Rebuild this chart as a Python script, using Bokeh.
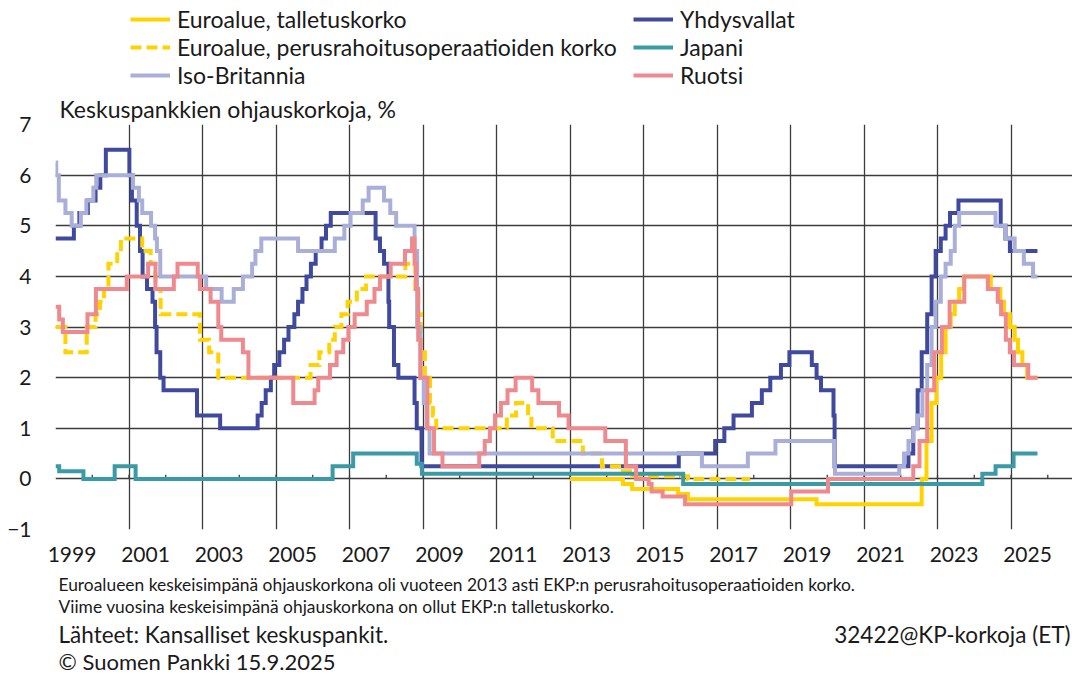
from bokeh.plotting import figure
from bokeh.layouts import column
from bokeh.models import (FixedTicker, Legend, LegendItem, Label, Range1d,
                          CustomJSTickFormatter)
from bokeh.embed import file_html
from bokeh.resources import INLINE

# ---------------- data (change dates as decimal years, rate after change) ----
ea_depo_t = [2013.0, 2014.44, 2014.69, 2015.94, 2016.21, 2019.71, 2022.57, 2022.70,
             2022.84, 2022.97, 2023.10, 2023.22, 2023.36, 2023.47, 2023.59, 2023.72,
             2024.45, 2024.71, 2024.81, 2024.97, 2025.10, 2025.19, 2025.31, 2025.44,
             2025.72]
ea_depo_v = [0.0, -0.1, -0.2, -0.3, -0.4, -0.5, 0.0, 0.75,
             1.5, 2.0, 2.5, 3.0, 3.25, 3.5, 3.75, 4.0,
             3.75, 3.5, 3.25, 3.0, 2.75, 2.5, 2.25, 2.0,
             2.0]

ea_mro_t = [1999.0, 1999.27, 1999.85, 2000.09, 2000.21, 2000.32, 2000.44, 2000.68,
            2000.78, 2001.36, 2001.59, 2001.72, 2001.86, 2002.93, 2003.18, 2003.43,
            2005.94, 2006.18, 2006.45, 2006.60, 2006.78, 2006.95, 2007.20, 2007.45,
            2008.52, 2008.79, 2008.87, 2008.94, 2009.05, 2009.19, 2009.27, 2009.36,
            2011.28, 2011.53, 2011.86, 2011.95, 2012.53, 2013.35, 2013.87, 2014.44,
            2014.69, 2016.21, 2017.90]
ea_mro_v = [3.0, 2.5, 3.0, 3.25, 3.5, 3.75, 4.25, 4.5,
            4.75, 4.5, 4.25, 3.75, 3.25, 2.75, 2.5, 2.0,
            2.25, 2.5, 2.75, 3.0, 3.25, 3.5, 3.75, 4.0,
            4.25, 3.75, 3.25, 2.5, 2.0, 1.5, 1.25, 1.0,
            1.25, 1.5, 1.25, 1.0, 0.75, 0.5, 0.25, 0.15,
            0.05, 0.0, 0.0]

us_t = [1999.0, 1999.50, 1999.65, 1999.88, 2000.09, 2000.22, 2000.37, 2001.01,
        2001.08, 2001.21, 2001.30, 2001.37, 2001.49, 2001.64, 2001.71, 2001.75,
        2001.85, 2001.94, 2002.85, 2003.48, 2004.50, 2004.61, 2004.72, 2004.86,
        2004.95, 2005.09, 2005.22, 2005.34, 2005.50, 2005.60, 2005.72, 2005.83,
        2005.95, 2006.08, 2006.24, 2006.36, 2006.49, 2007.71, 2007.83, 2007.94,
        2008.06, 2008.08, 2008.21, 2008.33, 2008.77, 2008.83, 2008.96, 2015.96,
        2016.95, 2017.20, 2017.45, 2017.95, 2018.22, 2018.45, 2018.74, 2018.97,
        2019.58, 2019.71, 2019.83, 2020.17, 2020.20, 2022.21, 2022.34, 2022.46,
        2022.57, 2022.72, 2022.84, 2022.95, 2023.09, 2023.22, 2023.34, 2023.57,
        2024.72, 2024.85, 2024.97, 2025.72]
us_v = [4.75, 5.0, 5.25, 5.5, 5.75, 6.0, 6.5, 6.0,
        5.5, 5.0, 4.5, 4.0, 3.75, 3.5, 3.0, 2.5,
        2.0, 1.75, 1.25, 1.0, 1.25, 1.5, 1.75, 2.0,
        2.25, 2.5, 2.75, 3.0, 3.25, 3.5, 3.75, 4.0,
        4.25, 4.5, 4.75, 5.0, 5.25, 4.75, 4.5, 4.25,
        3.5, 3.0, 2.25, 2.0, 1.5, 1.0, 0.25, 0.5,
        0.75, 1.0, 1.25, 1.5, 1.75, 2.0, 2.25, 2.5,
        2.25, 2.0, 1.75, 1.25, 0.25, 0.5, 1.0, 1.75,
        2.5, 3.25, 4.0, 4.5, 4.75, 5.0, 5.25, 5.5,
        5.0, 4.75, 4.5, 4.5]

jp_t = [1999.0, 1999.10, 1999.76, 2000.61, 2001.18, 2006.54, 2007.10, 2008.83,
        2008.97, 2016.08, 2024.22, 2024.58, 2025.07, 2025.72]
jp_v = [0.25, 0.15, 0.0, 0.25, 0.0, 0.25, 0.5, 0.3,
        0.1, -0.1, 0.1, 0.25, 0.5, 0.5]

uk_t = [1999.0, 1999.02, 1999.09, 1999.27, 1999.44, 1999.69, 1999.84, 2000.03,
        2000.11, 2001.11, 2001.27, 2001.36, 2001.60, 2001.71, 2001.76, 2001.85,
        2003.10, 2003.52, 2003.85, 2004.10, 2004.35, 2004.44, 2004.60, 2005.60,
        2006.60, 2006.86, 2007.03, 2007.36, 2007.52, 2007.94, 2008.11, 2008.27,
        2008.77, 2008.84, 2008.93, 2009.02, 2009.10, 2009.18, 2016.59, 2017.84,
        2018.59, 2020.19, 2020.21, 2021.96, 2022.09, 2022.21, 2022.34, 2022.46,
        2022.59, 2022.72, 2022.84, 2022.95, 2023.09, 2023.22, 2023.36, 2023.47,
        2023.59, 2024.58, 2024.85, 2025.10, 2025.35, 2025.60, 2025.72]
uk_v = [6.25, 6.0, 5.5, 5.25, 5.0, 5.25, 5.5, 5.75,
        6.0, 5.75, 5.5, 5.25, 5.0, 4.75, 4.5, 4.0,
        3.75, 3.5, 3.75, 4.0, 4.25, 4.5, 4.75, 4.5,
        4.75, 5.0, 5.25, 5.5, 5.75, 5.5, 5.25, 5.0,
        4.5, 3.0, 2.0, 1.5, 1.0, 0.5, 0.25, 0.5,
        0.75, 0.25, 0.1, 0.25, 0.5, 0.75, 1.0, 1.25,
        1.75, 2.25, 3.0, 3.5, 4.0, 4.25, 4.5, 5.0,
        5.25, 5.0, 4.75, 4.5, 4.25, 4.0, 4.0]

se_t = [1999.0, 1999.10, 1999.20, 1999.87, 2000.10, 2000.94, 2001.52, 2001.72,
        2002.22, 2002.32, 2002.87, 2002.93, 2003.22, 2003.43, 2003.51, 2004.10,
        2004.25, 2005.47, 2006.05, 2006.15, 2006.47, 2006.65, 2006.83, 2006.97,
        2007.14, 2007.47, 2007.68, 2007.83, 2008.12, 2008.51, 2008.70, 2008.77,
        2008.81, 2008.87, 2008.93, 2009.12, 2009.30, 2009.53, 2010.53, 2010.68,
        2010.82, 2010.96, 2011.12, 2011.30, 2011.52, 2011.97, 2012.14, 2012.70,
        2012.96, 2013.96, 2014.52, 2014.80, 2015.14, 2015.22, 2015.52, 2016.13,
        2019.02, 2020.02, 2022.34, 2022.51, 2022.72, 2022.91, 2023.12, 2023.33,
        2023.73, 2024.37, 2024.64, 2024.73, 2024.86, 2024.97, 2025.08, 2025.47,
        2025.72]
se_v = [3.4, 3.15, 2.9, 3.25, 3.75, 4.0, 4.25, 3.75,
        4.0, 4.25, 4.0, 3.75, 3.5, 3.0, 2.75, 2.5,
        2.0, 1.5, 1.75, 2.0, 2.25, 2.5, 2.75, 3.0,
        3.25, 3.5, 3.75, 4.0, 4.25, 4.5, 4.75, 4.25,
        3.75, 2.75, 2.0, 1.0, 0.5, 0.25, 0.5, 0.75,
        1.0, 1.25, 1.5, 1.75, 2.0, 1.75, 1.5, 1.25,
        1.0, 0.75, 0.25, 0.0, -0.1, -0.25, -0.35, -0.5,
        -0.25, 0.0, 0.25, 0.75, 1.75, 2.5, 3.0, 3.5,
        4.0, 3.75, 3.5, 3.25, 2.75, 2.5, 2.25, 2.0,
        2.0]

y_ticks = [-1, 0, 1, 2, 3, 4, 5, 6, 7]
label_years = list(range(1999, 2026, 2))
minor_years = list(range(2000, 2027))

names = {
    "depo": "Euroalue, talletuskorko",
    "mro": "Euroalue, perusrahoitusoperaatioiden korko",
    "uk": "Iso-Britannia",
    "us": "Yhdysvallat",
    "jp": "Japani",
    "se": "Ruotsi",
}
title_text = "Keskuspankkien ohjauskorkoja, %"
note1 = "Euroalueen keskeisimpänä ohjauskorkona oli vuoteen 2013 asti EKP:n perusrahoitusoperaatioiden korko."
note2 = "Viime vuosina keskeisimpänä ohjauskorkona on ollut EKP:n talletuskorko."
source = "Lähteet: Kansalliset keskuspankit."
code_id = "32422@KP-korkoja (ET)"
copyright_text = "© Suomen Pankki 15.9.2025"

# ---------------- styling ----------------
FONT = "Lato"
TXT = "#1a1a1a"
GRID = "#3c3c3c"
C_YEL = "#FFD200"
C_US = "#3F4A9E"
C_JP = "#3A9AA6"
C_UK = "#A9AFD8"
C_SE = "#EE898D"
LW = 4
STYLE = {
    "depo": dict(line_color=C_YEL, line_width=LW),
    "mro": dict(line_color=C_YEL, line_width=LW, line_dash="11 5"),
    "us": dict(line_color=C_US, line_width=LW),
    "jp": dict(line_color=C_JP, line_width=LW),
    "uk": dict(line_color=C_UK, line_width=LW),
    "se": dict(line_color=C_SE, line_width=LW),
}

W = 1072
HEAD_H = 90
BL, BT, BB = 55, 34, 43
FRAME_H = 405
MAIN_H = BT + FRAME_H + BB
FOOT_H = 674 - HEAD_H - MAIN_H
frame_w = W - BL
X0 = 1999.0
X1 = X0 + frame_w / 36.75


def blank(h):
    f = figure(width=W, height=h, output_backend="svg", toolbar_location=None,
               x_range=Range1d(0, 1), y_range=Range1d(0, 1),
               x_axis_location=None, y_axis_location=None,
               min_border=0, min_border_left=0, min_border_right=0,
               min_border_top=0, min_border_bottom=0)
    f.outline_line_color = None
    f.grid.visible = False
    return f


# ---------------- header with legend ----------------
head = blank(HEAD_H)
dummy = {k: head.line(x=[0, 1], y=[-10, -10], **v) for k, v in STYLE.items()}


def make_legend(keys, loc):
    lg = Legend(items=[LegendItem(label=names[k], renderers=[dummy[k]]) for k in keys],
                location=loc, orientation="vertical")
    lg.background_fill_alpha = 0
    lg.border_line_alpha = 0
    lg.label_text_font = FONT
    lg.label_text_font_size = "23px"
    lg.label_text_color = TXT
    lg.glyph_width = 40
    lg.glyph_height = 20
    lg.label_height = 20
    lg.label_standoff = 7
    lg.spacing = 0
    lg.padding = 0
    lg.margin = 0
    return lg


head.add_layout(make_legend(["depo", "mro", "uk"], (75, 1)))
head.add_layout(make_legend(["us", "jp", "se"], (578, 1)))

# ---------------- main chart ----------------
p = figure(width=W, height=MAIN_H, output_backend="svg", toolbar_location=None,
           x_range=Range1d(X0, X1), y_range=Range1d(-1, 7),
           min_border_left=BL, min_border_right=0, min_border_top=BT,
           min_border_bottom=BB, background_fill_color="white",
           border_fill_color="white", title=title_text)
p.outline_line_color = None
p.title.align = "left"
p.title.offset = 4
p.title.standoff = 3
p.title.text_font = FONT
p.title.text_font_size = "23px"
p.title.text_font_style = "normal"
p.title.text_color = TXT

p.ygrid.ticker = FixedTicker(ticks=y_ticks)
p.ygrid.grid_line_color = GRID
p.ygrid.grid_line_width = 1.3
p.xgrid.ticker = FixedTicker(ticks=label_years)
p.xgrid.grid_line_color = GRID
p.xgrid.grid_line_width = 1.3

p.yaxis.ticker = FixedTicker(ticks=y_ticks)
p.yaxis.axis_line_color = None
p.yaxis.major_tick_line_color = None
p.yaxis.minor_tick_line_color = None
p.yaxis.major_tick_out = 0
p.yaxis.major_label_standoff = 24
p.yaxis.major_label_text_font = FONT
p.yaxis.major_label_text_font_size = "21px"
p.yaxis.major_label_text_color = TXT

p.xaxis.ticker = FixedTicker(ticks=[y + 0.45 for y in label_years])
p.xaxis.formatter = CustomJSTickFormatter(code="return String(Math.floor(tick));")
p.xaxis.axis_line_color = None
p.xaxis.major_tick_line_color = None
p.xaxis.minor_tick_line_color = None
p.xaxis.major_tick_out = 0
p.xaxis.major_label_standoff = 17
p.xaxis.major_label_text_font = FONT
p.xaxis.major_label_text_font_size = "21px"
p.xaxis.major_label_text_color = TXT

p.segment(x0=minor_years, y0=[0] * len(minor_years), x1=minor_years,
          y1=[4 / 50.6] * len(minor_years), line_color=GRID, line_width=1.3)

series = [("depo", ea_depo_t, ea_depo_v), ("us", us_t, us_v), ("mro", ea_mro_t, ea_mro_v),
          ("jp", jp_t, jp_v), ("uk", uk_t, uk_v), ("se", se_t, se_v)]
for key, xs, ys in series:
    p.step(xs, ys, mode="after", line_join="miter", **STYLE[key])

# ---------------- footer ----------------
foot = blank(FOOT_H)


def add_text(fig, txt, x, y, size, align="left"):
    fig.add_layout(Label(x=x, y=y, x_units="screen", y_units="screen", text=txt,
                         text_font=FONT, text_font_size=size, text_color=TXT,
                         text_baseline="middle", text_align=align))


add_text(foot, note1, 3, 90, "17.4px")
add_text(foot, note2, 3, 68, "17.4px")
add_text(foot, source, 3, 40, "22.5px")
add_text(foot, code_id, frame_w - 2, 40, "22.5px", align="right")
add_text(foot, copyright_text, 3, 13, "22px")

layout = column(head, p, foot)
open("out.html", "w").write(file_html(layout, INLINE))
